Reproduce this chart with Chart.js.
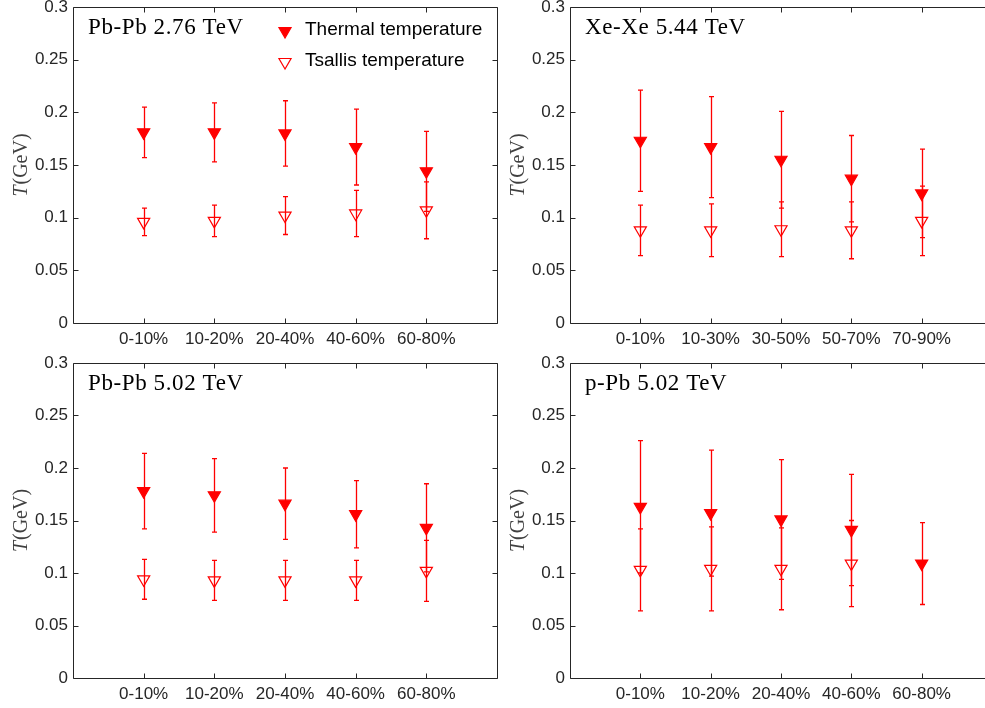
<!DOCTYPE html>
<html>
<head>
<meta charset="utf-8">
<script src="https://cdn.jsdelivr.net/npm/chart.js@4.4.0/dist/chart.umd.min.js"></script>
<style>
  html, body { margin: 0; padding: 0; background: #fff; overflow: hidden; width: 985px; height: 708px; }
  .panel { position: absolute; overflow: hidden; height: 354px; }
  canvas { display: block; }
</style>
</head>
<body>
<div class="panel" style="left:0;top:0;width:500px"><canvas id="c1" width="500" height="354"></canvas></div>
<div class="panel" style="left:500px;top:0;width:485px"><canvas id="c2" width="500" height="354"></canvas></div>
<div class="panel" style="left:0;top:354px;width:500px"><canvas id="c3" width="500" height="354"></canvas></div>
<div class="panel" style="left:500px;top:354px;width:485px"><canvas id="c4" width="500" height="354"></canvas></div>
<script>
// centrality classes
const centralityPb = ['0-10%', '10-20%', '20-40%', '40-60%', '60-80%'];
const centralityXe = ['0-10%', '10-30%', '30-50%', '50-70%', '70-90%'];
const yTicks = [0, 0.05, 0.1, 0.15, 0.2, 0.25, 0.3];

// Pb-Pb 2.76 TeV
const pbpb276Thermal = [0.181, 0.181, 0.180, 0.167, 0.144];
const pbpb276ThermalErr = [0.024, 0.028, 0.031, 0.036, 0.038];
const pbpb276Tsallis = [0.096, 0.097, 0.102, 0.104, 0.107];
const pbpb276TsallisErr = [0.013, 0.015, 0.018, 0.022, 0.027];

// Xe-Xe 5.44 TeV
const xexeThermal = [0.173, 0.167, 0.155, 0.137, 0.123];
const xexeThermalErr = [0.048, 0.048, 0.046, 0.041, 0.042];
const xexeTsallis = [0.088, 0.088, 0.089, 0.088, 0.097];
const xexeTsallisErr = [0.024, 0.025, 0.026, 0.027, 0.033];

// Pb-Pb 5.02 TeV
const pbpb502Thermal = [0.178, 0.174, 0.166, 0.156, 0.143];
const pbpb502ThermalErr = [0.036, 0.035, 0.034, 0.032, 0.042];
const pbpb502Tsallis = [0.094, 0.093, 0.093, 0.093, 0.102];
const pbpb502TsallisErr = [0.019, 0.019, 0.019, 0.019, 0.029];

// p-Pb 5.02 TeV (no Tsallis fit for 60-80%)
const ppbThermal = [0.163, 0.157, 0.151, 0.141, 0.109];
const ppbThermalErr = [0.063, 0.060, 0.057, 0.053, 0.039];
const ppbTsallis = [0.103, 0.104, 0.104, 0.109, null];
const ppbTsallisErr = [0.039, 0.040, 0.039, 0.041, null];

const RED = '#ff0000';
const AXIS = '#262626';
const SANS = '"Liberation Sans", Arial, sans-serif';
const SERIF = '"Liberation Serif", "Times New Roman", serif';

Chart.defaults.font.family = SANS;
Chart.defaults.color = AXIS;

function downTriangle(ctx, x, y, r) {
  ctx.beginPath();
  ctx.moveTo(x, y + r);
  ctx.lineTo(x - r * Math.sin(Math.PI / 3), y - r / 2);
  ctx.lineTo(x + r * Math.sin(Math.PI / 3), y - r / 2);
  ctx.closePath();
}

// vertical error bars with small caps
const errorBars = {
  id: 'errorBars',
  beforeDatasetsDraw(chart) {
    const {ctx, scales: {x, y}} = chart;
    ctx.save();
    ctx.strokeStyle = RED;
    ctx.lineWidth = 1.3;
    chart.data.datasets.forEach(ds => {
      ds.data.forEach((p, i) => {
        const e = ds.errors[i];
        if (p.y == null || e == null) return;
        const px = Math.round(x.getPixelForValue(p.x)) + 0.5;
        const top = y.getPixelForValue(p.y + e);
        const bot = y.getPixelForValue(p.y - e);
        ctx.beginPath();
        ctx.moveTo(px, top); ctx.lineTo(px, bot);
        ctx.moveTo(px - 2.5, top); ctx.lineTo(px + 2.5, top);
        ctx.moveTo(px - 2.5, bot); ctx.lineTo(px + 2.5, bot);
        ctx.stroke();
      });
    });
    ctx.restore();
  }
};

// boxed axes with inward ticks on all four sides
const frame = {
  id: 'frame',
  afterDraw(chart) {
    const {ctx, chartArea: a, scales: {x, y}} = chart;
    const l = Math.round(a.left) + 0.5, r = Math.round(a.right) + 0.5;
    const t = Math.round(a.top) + 0.5, b = Math.round(a.bottom) + 0.5;
    ctx.save();
    ctx.strokeStyle = AXIS;
    ctx.lineWidth = 1;
    ctx.beginPath();
    ctx.moveTo(l, t); ctx.lineTo(r, t); ctx.lineTo(r, b); ctx.lineTo(l, b); ctx.closePath();
    y.ticks.forEach(tk => {
      const py = Math.round(y.getPixelForValue(tk.value)) + 0.5;
      ctx.moveTo(l, py); ctx.lineTo(l + 5, py);
      ctx.moveTo(r, py); ctx.lineTo(r - 5, py);
    });
    x.ticks.forEach(tk => {
      const px = Math.round(x.getPixelForValue(tk.value)) + 0.5;
      ctx.moveTo(px, t); ctx.lineTo(px, t + 5);
      ctx.moveTo(px, b); ctx.lineTo(px, b - 5);
    });
    ctx.stroke();
    ctx.restore();
  }
};

// system label in the corner and the T(GeV) axis title
const annotations = {
  id: 'annotations',
  afterDraw(chart, args, opts) {
    const {ctx, chartArea: a} = chart;
    ctx.save();
    ctx.fillStyle = '#000';
    ctx.font = '23px ' + SERIF;
    ctx.letterSpacing = '0.6px';
    ctx.textBaseline = 'alphabetic';
    ctx.textAlign = 'left';
    ctx.fillText(opts.label, a.left + 15, a.top + 27);
    ctx.letterSpacing = '0px';

    ctx.translate(a.left - 46, (a.top + a.bottom) / 2);
    ctx.rotate(-Math.PI / 2);
    ctx.fillStyle = '#404040';
    const italic = 'italic 20px ' + SERIF;
    const upright = '20px ' + SERIF;
    ctx.font = italic;
    const w1 = ctx.measureText('T').width + 1;
    ctx.font = upright;
    const w2 = ctx.measureText('(GeV)').width;
    const x0 = -(w1 + w2) / 2;
    ctx.font = italic;
    ctx.fillText('T', x0, 0);
    ctx.font = upright;
    ctx.fillText('(GeV)', x0 + w1, 0);
    ctx.restore();
  }
};

// legend drawn inside the first panel
const legendBox = {
  id: 'legendBox',
  afterDraw(chart, args, opts) {
    if (!opts.show) return;
    const {ctx, chartArea: a} = chart;
    ctx.save();
    ctx.font = '19px ' + SANS;
    ctx.textBaseline = 'middle';
    chart.data.datasets.forEach((ds, i) => {
      const cy = a.top + 23 + i * 31;
      const cx = a.left + 212;
      downTriangle(ctx, cx, cy + 1, 7);
      ctx.lineWidth = 1.2;
      ctx.strokeStyle = RED;
      if (ds.filled) { ctx.fillStyle = RED; ctx.fill(); }
      ctx.stroke();
      ctx.fillStyle = '#000';
      ctx.fillText(ds.label, a.left + 232, cy);
    });
    ctx.restore();
  }
};

function points(values) {
  return values.map((v, i) => ({x: i + 1, y: v}));
}

function makeChart(id, p) {
  new Chart(document.getElementById(id), {
    type: 'scatter',
    data: {
      datasets: [{
        label: 'Thermal temperature',
        data: points(p.thermal),
        errors: p.thermalErr,
        filled: true,
        pointStyle: 'triangle',
        rotation: 180,
        radius: 7,
        borderWidth: 1.2,
        borderColor: RED,
        backgroundColor: RED
      }, {
        label: 'Tsallis temperature',
        data: points(p.tsallis),
        errors: p.tsallisErr,
        filled: false,
        pointStyle: 'triangle',
        rotation: 180,
        radius: 7,
        borderWidth: 1.2,
        borderColor: RED,
        backgroundColor: 'rgba(0,0,0,0)'
      }]
    },
    options: {
      responsive: false,
      animation: false,
      events: [],
      layout: {autoPadding: false, padding: {left: 0, top: p.top, right: p.right, bottom: 0}},
      scales: {
        x: {
          type: 'linear',
          min: 0,
          max: 6,
          afterBuildTicks: s => { s.ticks = p.categories.map((c, i) => ({value: i + 1})); },
          afterFit: s => { s.height = p.xHeight; s.paddingLeft = 0; s.paddingRight = 0; },
          grid: {display: false, drawTicks: false},
          border: {display: false},
          ticks: {
            font: {size: 17},
            padding: 6,
            maxRotation: 0,
            autoSkip: false,
            callback: v => p.categories[v - 1] || ''
          }
        },
        y: {
          min: 0,
          max: 0.3,
          afterBuildTicks: s => { s.ticks = yTicks.map(v => ({value: v})); },
          afterFit: s => { s.width = p.yWidth; s.paddingTop = 0; s.paddingBottom = 0; },
          grid: {display: false, drawTicks: false},
          border: {display: false},
          ticks: {
            font: {size: 17},
            padding: 5,
            callback: v => String(+v.toFixed(2))
          }
        }
      },
      plugins: {
        legend: {display: false},
        tooltip: {enabled: false},
        annotations: {label: p.label},
        legendBox: {show: !!p.legend}
      }
    },
    plugins: [errorBars, frame, annotations, legendBox]
  });
}

makeChart('c1', {
  label: 'Pb-Pb 2.76 TeV', categories: centralityPb, legend: true,
  thermal: pbpb276Thermal, thermalErr: pbpb276ThermalErr,
  tsallis: pbpb276Tsallis, tsallisErr: pbpb276TsallisErr,
  top: 7, right: 3, yWidth: 73, xHeight: 31
});
makeChart('c2', {
  label: 'Xe-Xe 5.44 TeV', categories: centralityXe,
  thermal: xexeThermal, thermalErr: xexeThermalErr,
  tsallis: xexeTsallis, tsallisErr: xexeTsallisErr,
  top: 7, right: 8, yWidth: 70, xHeight: 31
});
makeChart('c3', {
  label: 'Pb-Pb 5.02 TeV', categories: centralityPb,
  thermal: pbpb502Thermal, thermalErr: pbpb502ThermalErr,
  tsallis: pbpb502Tsallis, tsallisErr: pbpb502TsallisErr,
  top: 9, right: 3, yWidth: 73, xHeight: 30
});
makeChart('c4', {
  label: 'p-Pb 5.02 TeV', categories: centralityPb,
  thermal: ppbThermal, thermalErr: ppbThermalErr,
  tsallis: ppbTsallis, tsallisErr: ppbTsallisErr,
  top: 9, right: 8, yWidth: 70, xHeight: 30
});
</script>
</body>
</html>
